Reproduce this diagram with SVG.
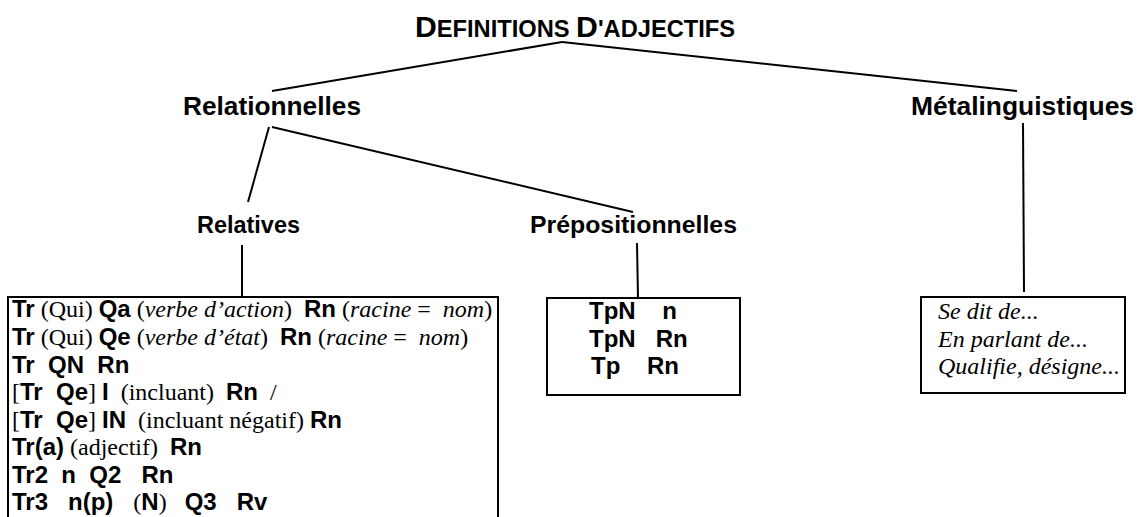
<svg xmlns="http://www.w3.org/2000/svg" width="1137" height="517" viewBox="0 0 1137 517">
<style>
text { white-space: pre; fill: #000; }
.b { font-family: "Liberation Sans", Arial, sans-serif; font-weight: bold; }
.r { font-family: "Liberation Serif", "Times New Roman", serif; font-weight: normal; font-style: normal; }
.i { font-family: "Liberation Serif", "Times New Roman", serif; font-style: italic; font-weight: normal; }
.lbl { font-family: "Liberation Sans", Arial, sans-serif; font-weight: bold; }
.box { fill: #fff; stroke: #000; stroke-width: 2; }
.conn line { stroke: #000; stroke-width: 2; }
.t { font-size: 24px; }
</style>
<rect width="1137" height="517" fill="#fff"/>
<g id="connectors" class="conn">
<line x1="562" y1="42" x2="272" y2="91"/>
<line x1="562" y1="42" x2="1017" y2="91"/>
<line x1="269" y1="127" x2="248" y2="202"/>
<line x1="272" y1="127" x2="633" y2="212"/>
<line x1="242" y1="245" x2="242" y2="297"/>
<line x1="637" y1="243" x2="638" y2="298"/>
<line x1="1023" y1="123" x2="1024" y2="292"/>
</g>
<g id="title">
<text class="lbl" x="415" y="37" textLength="320" lengthAdjust="spacingAndGlyphs"><tspan font-size="30">D</tspan><tspan font-size="23.5">EFINITIONS </tspan><tspan font-size="30">D</tspan><tspan font-size="23.5">'ADJECTIFS</tspan></text>
</g>
<g id="relationnelles">
<text class="lbl" x="183" y="115" font-size="26" textLength="178" lengthAdjust="spacingAndGlyphs">Relationnelles</text>
</g>
<g id="metalinguistiques">
<text class="lbl" x="911" y="115" font-size="26" textLength="223" lengthAdjust="spacingAndGlyphs">Métalinguistiques</text>
</g>
<g id="relatives">
<text class="lbl" x="197" y="233" font-size="24" textLength="103" lengthAdjust="spacingAndGlyphs">Relatives</text>
</g>
<g id="prepositionnelles">
<text class="lbl" x="530" y="233" font-size="24" textLength="207" lengthAdjust="spacingAndGlyphs">Prépositionnelles</text>
</g>
<g id="box-relatives">
<rect class="box" x="8" y="297" width="490" height="240"/>
<text class="t" x="12" y="317"><tspan class="b">Tr</tspan><tspan class="r"> (Qui) </tspan><tspan class="b">Qa</tspan><tspan class="r"> (</tspan><tspan class="i">verbe d’action</tspan><tspan class="r">)  </tspan><tspan class="b">Rn</tspan><tspan class="r"> (</tspan><tspan class="i">racine</tspan><tspan class="r"> =  </tspan><tspan class="i">nom</tspan><tspan class="r">)</tspan></text>
<text class="t" x="12" y="345"><tspan class="b">Tr</tspan><tspan class="r"> (Qui) </tspan><tspan class="b">Qe</tspan><tspan class="r"> (</tspan><tspan class="i">verbe d’état</tspan><tspan class="r">)  </tspan><tspan class="b">Rn</tspan><tspan class="r"> (</tspan><tspan class="i">racine</tspan><tspan class="r"> =  </tspan><tspan class="i">nom</tspan><tspan class="r">)</tspan></text>
<text class="t b" x="12" y="372.5">Tr  QN  Rn</text>
<text class="t" x="12" y="400"><tspan class="r">[</tspan><tspan class="b">Tr  Qe</tspan><tspan class="r">] </tspan><tspan class="b">I</tspan><tspan class="r">  (incluant)  </tspan><tspan class="b">Rn</tspan><tspan class="r">  /</tspan></text>
<text class="t" x="12" y="427.5"><tspan class="r">[</tspan><tspan class="b">Tr  Qe</tspan><tspan class="r">] </tspan><tspan class="b">IN</tspan><tspan class="r">  (incluant négatif) </tspan><tspan class="b">Rn</tspan></text>
<text class="t" x="12" y="455"><tspan class="b">Tr(a)</tspan><tspan class="r"> (adjectif)  </tspan><tspan class="b">Rn</tspan></text>
<text class="t b" x="12" y="482.5">Tr2  n  Q2   Rn</text>
<text class="t" x="12" y="510"><tspan class="b">Tr3   n(p)   </tspan><tspan class="r">(</tspan><tspan class="b">N</tspan><tspan class="r">)   </tspan><tspan class="b">Q3   Rv</tspan></text>
</g>
<g id="box-prepositionnelles">
<rect class="box" x="547" y="298" width="193" height="97"/>
<text class="t b" x="589" y="319">TpN    n</text>
<text class="t b" x="589" y="347">TpN   Rn</text>
<text class="t b" x="591" y="374">Tp    Rn</text>
</g>
<g id="box-metalinguistiques">
<rect class="box" x="921" y="297" width="204" height="96"/>
<text class="t i" x="938" y="319">Se dit de...</text>
<text class="t i" x="938" y="347">En parlant de...</text>
<text class="t i" x="938" y="374">Qualifie, désigne...</text>
</g>
</svg>
